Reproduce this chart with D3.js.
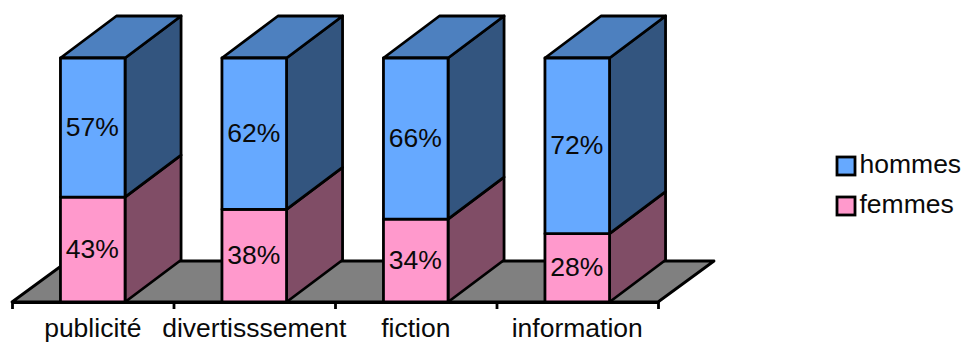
<!DOCTYPE html>
<html>
<head>
<meta charset="utf-8">
<script src="https://cdn.jsdelivr.net/npm/d3@7"></script>
<style>
html,body{margin:0;padding:0;background:#fff}
svg{display:block}
text{font-family:"Liberation Sans",Arial,sans-serif;fill:#0a0a0a}
</style>
</head>
<body>
<svg id="chart" width="965" height="342"></svg>
<script>
const categories = ["publicité", "divertisssement", "fiction", "information"];
const femmes = [43, 38, 34, 28];
const hommes = [57, 62, 66, 72];
const seriesNames = ["hommes", "femmes"];

const colors = {
  hommes: {front: "#66a9ff", side: "#33557f", top: "#4d80bf"},
  femmes: {front: "#ff99cc", side: "#804d66"}
};
const ink = "#000";
const lineW = 2.8;
const fontSize = 26.5;

// Oblique offset of the depth axis
const depthX = 56, depthY = 42;

const svg = d3.select("#chart");
const x0 = 12, x1 = 658, yBase = 302, yTop = 58;

const x = d3.scaleBand().domain(categories).range([x0, x1]).paddingInner(0.6).paddingOuter(0.3);
const y = d3.scaleLinear().domain([0, 100]).range([yBase, yTop]);
const edges = d3.scaleLinear().domain([0, categories.length]).range([x0, x1]);

const poly = pts => d3.line()(pts) + "Z";
const shape = (g, pts, fill) => g.append("path")
  .attr("d", poly(pts))
  .attr("fill", fill)
  .attr("stroke", ink)
  .attr("stroke-width", lineW)
  .attr("stroke-linejoin", "round");

// Floor of the 3D plot
shape(svg.append("g"), [
  [x0, yBase], [x0 + depthX, yBase - depthY + 1], [x1 + depthX, yBase - depthY + 1], [x1, yBase]
], "#808080");

// Stacked boxes: women at the base, men above
const bars = svg.append("g").selectAll("g").data(categories).join("g");
bars.each(function (c, i) {
  const g = d3.select(this);
  const l = x(c), r = l + x.bandwidth();
  const yF = y(femmes[i]), yH = y(femmes[i] + hommes[i]);
  shape(g, [[r, yBase], [r + depthX, yBase - depthY], [r + depthX, yF - depthY], [r, yF]], colors.femmes.side);
  shape(g, [[r, yF], [r + depthX, yF - depthY], [r + depthX, yH - depthY], [r, yH]], colors.hommes.side);
  shape(g, [[l, yH], [l + depthX, yH - depthY], [r + depthX, yH - depthY], [r, yH]], colors.hommes.top);
  shape(g, [[l, yBase], [r, yBase], [r, yF], [l, yF]], colors.femmes.front);
  shape(g, [[l, yF], [r, yF], [r, yH], [l, yH]], colors.hommes.front);
  const cx = (l + r) / 2 - 0.5;
  g.append("text").attr("x", cx).attr("y", (yBase + yF) / 2 + 8.5)
    .attr("text-anchor", "middle").attr("font-size", fontSize).text(femmes[i] + "%");
  g.append("text").attr("x", cx).attr("y", (yF + yH) / 2 + 8.5)
    .attr("text-anchor", "middle").attr("font-size", fontSize).text(hommes[i] + "%");
});

// Base line with tick marks on the category boundaries
const tickAxis = svg.append("g").attr("transform", `translate(0,${yBase})`)
  .call(d3.axisBottom(edges).tickValues(d3.range(categories.length + 1)).tickSize(7).tickSizeOuter(0).tickFormat(""));
tickAxis.selectAll("path,line").attr("stroke", ink).attr("stroke-width", lineW);

// Category labels
const labelAxis = svg.append("g").attr("transform", `translate(0,${yBase})`)
  .call(d3.axisBottom(x).tickSize(0).tickPadding(16));
labelAxis.select(".domain").remove();
labelAxis.selectAll("text").attr("font-size", fontSize).attr("font-family", '"Liberation Sans",Arial,sans-serif').attr("fill", "#0a0a0a");

// Legend
const legend = svg.append("g").selectAll("g").data(seriesNames).join("g")
  .attr("transform", (d, i) => `translate(837,${157 + i * 40})`);
legend.append("rect").attr("width", 18).attr("height", 18)
  .attr("fill", d => colors[d].front).attr("stroke", ink).attr("stroke-width", lineW);
legend.append("text").attr("x", 22.5).attr("y", 15.5).attr("font-size", fontSize).text(d => d);
</script>
</body>
</html>
